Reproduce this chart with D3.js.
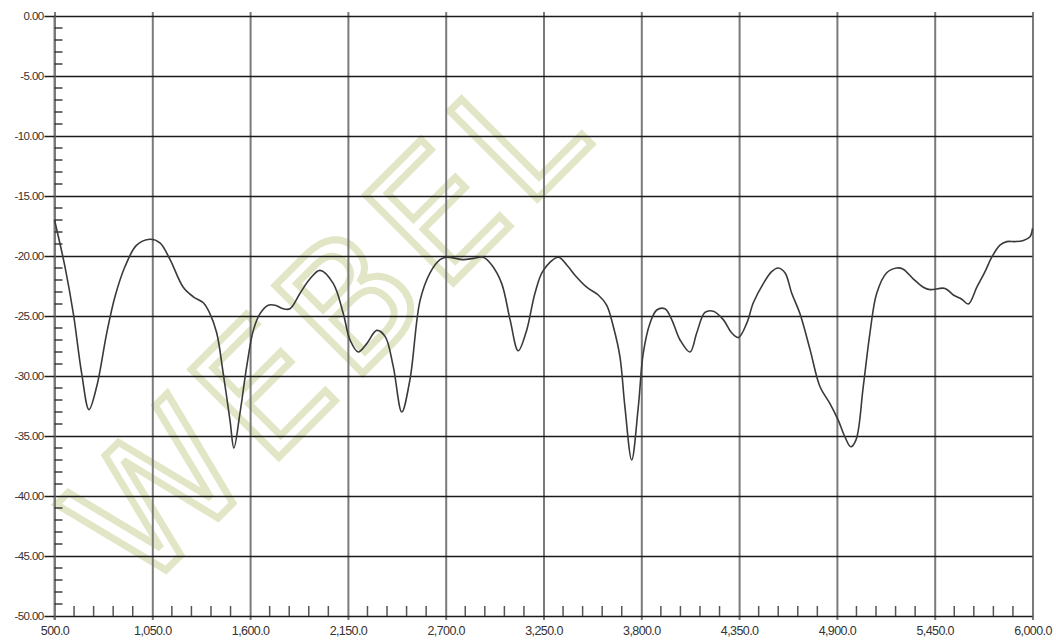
<!DOCTYPE html>
<html>
<head>
<meta charset="utf-8">
<script src="https://cdn.jsdelivr.net/npm/d3@7"></script>
<style>
  body { margin: 0; background: #fff; }
  svg { display: block; font-family: "Liberation Sans", Arial, sans-serif; }
  .axis text { fill: #333; }
  .axis .domain { display: none; }
</style>
</head>
<body>
<div id="chart"></div>
<script>
// frequency (x) and level (y)
var freqs = [500, 559, 606, 653, 694, 737, 794, 840, 896, 962, 1037, 1093, 1150, 1224, 1281, 1337,
  1374, 1412, 1449, 1487, 1509, 1543, 1581, 1618, 1656, 1702, 1740, 1787, 1824, 1881, 1937, 1993,
  2068, 2124, 2162, 2208, 2256, 2312, 2359, 2405, 2453, 2499, 2556, 2612, 2668, 2706, 2799, 2855,
  2911, 2959, 3015, 3062, 3108, 3155, 3202, 3249, 3333, 3381, 3427, 3493, 3558, 3605, 3643, 3680,
  3708, 3746, 3783, 3811, 3849, 3887, 3933, 3971, 4018, 4074, 4112, 4158, 4205, 4261, 4308, 4346,
  4393, 4430, 4486, 4533, 4570, 4608, 4646, 4692, 4749, 4805, 4861, 4908, 4946, 4978, 5008, 5048,
  5086, 5124, 5180, 5236, 5273, 5329, 5386, 5423, 5508, 5555, 5602, 5639, 5687, 5733, 5771, 5817,
  5855, 5902, 5949, 5986, 6000];
var levels = [-17.0, -20.9, -24.8, -29.8, -32.8, -30.9, -26.4, -23.4, -20.9, -19.1, -18.6, -18.9, -20.3, -22.6, -23.4, -23.9,
  -24.8, -26.4, -29.8, -33.7, -36.0, -33.1, -29.2, -26.2, -24.8, -24.1, -24.1, -24.4, -24.4, -23.1, -21.9, -21.2,
  -22.3, -24.8, -27.0, -28.0, -27.3, -26.2, -26.7, -29.2, -33.0, -30.3, -23.7, -21.4, -20.3, -20.1, -20.3, -20.2,
  -20.1, -20.75, -22.3, -25.3, -27.9, -26.2, -23.1, -21.2, -20.1, -20.75, -21.6, -22.6, -23.25, -24.1, -25.9, -28.4,
  -32.6, -37.0, -32.6, -28.1, -25.6, -24.5, -24.4, -25.3, -27.0, -28.0, -26.4, -24.7, -24.6, -25.3, -26.4, -26.8,
  -25.6, -23.9, -22.3, -21.3, -21.0, -21.4, -23.1, -24.8, -27.8, -30.9, -32.3, -33.7, -35.1, -35.9, -35.3, -30.9,
  -26.4, -23.1, -21.4, -21.0, -21.1, -21.9, -22.6, -22.8, -22.7, -23.25, -23.6, -24.0, -22.6, -21.3, -20.1, -19.1,
  -18.8, -18.8, -18.7, -18.4, -17.7];

var xTicks = [500, 1050, 1600, 2150, 2700, 3250, 3800, 4350, 4900, 5450, 6000];
var yTicks = [0, -5, -10, -15, -20, -25, -30, -35, -40, -45, -50];

var width = 1056;
var height = 640;
var margins = { top: 16, right: 23.5, bottom: 24, left: 54.5 };
var chartWidth = width - margins.left - margins.right;
var chartHeight = height - margins.top - margins.bottom;

var data = freqs.map((f, i) => ({ f: f, v: levels[i] }));

var xScale = d3.scaleLinear().domain([500, 6000]).range([0, chartWidth]);
var yScale = d3.scaleLinear().domain([-50, 0]).range([chartHeight, 0]);

var svg = d3.select("#chart").append("svg")
  .attr("width", width)
  .attr("height", height);

// watermark (outlined letters behind the grid)
svg.append("text")
  .attr("transform", "translate(140,596) rotate(-45)")
  .attr("font-size", 170)
  .attr("font-family", "DejaVu Sans")
  .attr("fill", "none")
  .attr("stroke", "#e2e6c6")
  .attr("stroke-width", 7)
  .attr("textLength", 640)
  .text("WEBEL");

var chartElement = svg.append("g")
  .attr("transform", `translate(${margins.left},${margins.top})`);

// vertical grid
chartElement.append("g")
  .attr("class", "x grid")
  .attr("transform", `translate(0,${chartHeight})`)
  .call(d3.axisBottom(xScale).tickValues(xTicks).tickSize(-chartHeight - 4).tickFormat(""))
  .call(g => g.select(".domain").remove())
  .call(g => g.selectAll("line").attr("stroke", "#7a7a7a").attr("stroke-width", 2).attr("y1", 4));

// horizontal grid
chartElement.append("g")
  .attr("class", "y grid")
  .call(d3.axisLeft(yScale).tickValues(yTicks).tickSize(-chartWidth).tickFormat(""))
  .call(g => g.select(".domain").remove())
  .call(g => g.selectAll("line").attr("stroke", "#1a1a1a").attr("stroke-width", 1.5));

// left axis line
chartElement.append("line")
  .attr("x1", 0).attr("x2", 0)
  .attr("y1", 0).attr("y2", chartHeight + 4)
  .attr("stroke", "#7a7a7a")
  .attr("stroke-width", 2);

// y minor ticks
var yMinor = d3.range(-49, 0).filter(v => v % 5 !== 0);
chartElement.append("g")
  .selectAll("line")
  .data(yMinor)
  .enter()
  .append("line")
  .attr("x1", 0).attr("x2", 8)
  .attr("y1", d => yScale(d)).attr("y2", d => yScale(d))
  .attr("stroke", "#222")
  .attr("stroke-width", 1.3);

// x minor ticks
var xMinor = d3.range(610, 6000, 110).filter(v => (v - 500) % 550 !== 0);
chartElement.append("g")
  .selectAll("line")
  .data(xMinor)
  .enter()
  .append("line")
  .attr("x1", d => xScale(d)).attr("x2", d => xScale(d))
  .attr("y1", chartHeight).attr("y2", chartHeight - 10)
  .attr("stroke", "#555")
  .attr("stroke-width", 1.5);

// y axis labels
chartElement.append("g")
  .attr("class", "y axis")
  .call(d3.axisLeft(yScale).tickValues(yTicks).tickSize(10).tickPadding(1).tickFormat(d => d.toFixed(2)))
  .call(g => g.selectAll("line").attr("stroke", "#1a1a1a").attr("stroke-width", 1.5))
  .call(g => g.selectAll("text").attr("font-size", 11.5).attr("letter-spacing", -0.6));

// x axis labels
chartElement.append("g")
  .attr("class", "x axis")
  .attr("transform", `translate(0,${chartHeight})`)
  .call(d3.axisBottom(xScale).tickValues(xTicks).tickSize(0).tickPadding(10).tickFormat(d3.format(",.1f")))
  .call(g => g.selectAll("text").attr("font-size", 12.5).attr("letter-spacing", -0.6));

// trace
var line = d3.line()
  .x(d => xScale(d.f))
  .y(d => yScale(d.v))
  .curve(d3.curveCatmullRom.alpha(0.5));

chartElement.append("path")
  .datum(data)
  .attr("d", line)
  .attr("fill", "none")
  .attr("stroke", "#3a3a3a")
  .attr("stroke-width", 1.6);
</script>
</body>
</html>
